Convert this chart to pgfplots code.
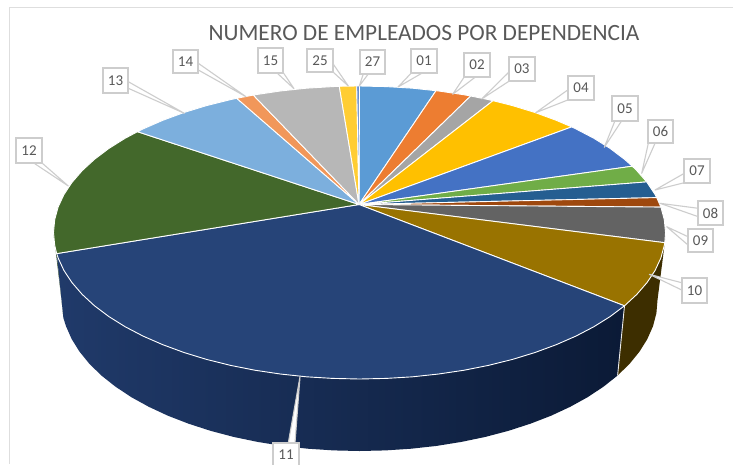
\documentclass[border=0pt]{standalone}
\usepackage{pgfplots}
\pgfplotsset{compat=1.18}
\usepackage{fontspec}
\setmainfont{Carlito}
\definecolor{c01}{HTML}{5B9BD5}\definecolor{c02}{HTML}{ED7D31}\definecolor{c03}{HTML}{A5A5A5}
\definecolor{c04}{HTML}{FFC000}\definecolor{c05}{HTML}{4472C4}\definecolor{c06}{HTML}{70AD47}
\definecolor{c07}{HTML}{255E91}\definecolor{c08}{HTML}{9E480E}\definecolor{c09}{HTML}{636363}
\definecolor{c10}{HTML}{997300}\definecolor{c11}{HTML}{264478}\definecolor{c12}{HTML}{43682B}
\definecolor{c13}{HTML}{7CAFDD}\definecolor{c14}{HTML}{F1975A}\definecolor{c15}{HTML}{B7B7B7}
\definecolor{c25}{HTML}{FFCD33}\definecolor{c27}{HTML}{698ED0}
\definecolor{sideL}{HTML}{203A6A}\definecolor{sideM}{HTML}{16284E}\definecolor{sideR}{HTML}{0B1A36}
\definecolor{txt}{HTML}{595959}\definecolor{callout}{HTML}{CDCDCD}\definecolor{frame}{HTML}{DEDEDE}
\pgfplotsset{
  slice/.style={fill=#1,draw=white,line width=0.9pt,no markers,line join=round,forget plot},
  side/.style={draw=none,no markers,forget plot}
}
\newcommand{\leader}[6]{\addplot[fill=white,draw=callout,line width=1.1pt,no markers,line join=round,forget plot] coordinates {(#1,#2)(#3,#4)(#5,#6)} -- cycle;}
\newcommand{\boxlab}[5]{\addplot[fill=white,draw=callout,line width=1.3pt,no markers,forget plot] coordinates {(#1,#2)(#3,#2)(#3,#4)(#1,#4)} -- cycle;
  \node[text=txt,font=\fontsize{15}{16}\selectfont,inner sep=0pt] at (axis cs:{(#1+#3)/2},{(#2+#4)/2}) {#5};}
\begin{document}
\begin{tikzpicture}
\begin{axis}[width=733pt,height=464pt,scale only axis,xmin=0,xmax=733,ymin=0,ymax=464,y dir=reverse,hide axis]
% page background
\addplot[fill=white,draw=none,no markers,forget plot] coordinates {(0,0)(733,0)(733,464)(0,464)} -- cycle;
% frame
\addplot[frame,line width=1pt,no markers,forget plot] coordinates {(733,7.5)(9.5,7.5)(9.5,464)};
% side walls
\addplot[side,fill=black!5!c12!75!black] coordinates {(53.5,232.5)(54.7,245.3)(56.7,253.6)(63.4,318)(61.5,300)} -- cycle;
\addplot[side,left color=sideL,middle color=sideM,right color=sideR] coordinates {
(56.7,253.6)(58.1,257.9)(63.9,270.4)(72.0,282.6)(82.2,294.4)(94.5,305.8)(108.8,316.5)(125.1,326.7)(143.1,336.1)(162.8,344.7)(184.0,352.5)(206.5,359.4)(230.2,365.3)(254.8,370.2)(280.3,374.0)(306.4,376.8)(332.8,378.4)(359.5,379.0)(386.2,378.4)(412.6,376.8)(438.7,374.0)(464.2,370.2)(488.8,365.3)(512.5,359.4)(535.0,352.5)(556.2,344.7)(575.9,336.1)(593.9,326.7)(610.2,316.5)(624.5,305.8)
(617.6,375.5)(603.6,386.6)(587.8,397.1)(570.2,406.8)(551.1,415.7)(530.4,423.7)(508.5,430.8)(485.4,436.9)(461.4,441.9)(436.6,445.9)(411.2,448.7)(385.5,450.4)(359.5,451)(333.5,450.4)(307.8,448.7)(282.4,445.9)(257.6,441.9)(233.6,436.9)(210.5,430.8)(188.6,423.7)(167.9,415.7)(148.8,406.8)(131.2,397.1)(115.4,386.6)(101.4,375.5)(89.4,363.8)(79.5,351.6)(71.7,339.1)(66.0,326.2)(63.4,318)} -- cycle;
\addplot[side,fill=c10!40!black] coordinates {
(664.8,242.7)(664.3,245.3)(660.9,257.9)(655.1,270.4)(647.0,282.6)(636.8,294.4)(624.5,305.8)(617.6,375.5)(629.6,363.8)(639.5,351.6)(647.3,339.1)(653,326.2)(656.4,313.2)(657.5,300)} -- cycle;
\addplot[white!85!gray,line width=0.9pt,no markers,forget plot] coordinates {(624.5,305.8)(617.6,375.5)};
% top slices
\addplot[slice=c01] coordinates {(359,204.5)(359.5,86.0)(386.2,86.6)(412.6,88.2)(436,90.7)} -- cycle;
\addplot[slice=c02] coordinates {(359,204.5)(436,90.7)(438.7,91.0)(464.2,94.8)(470.7,96)} -- cycle;
\addplot[slice=c03] coordinates {(359,204.5)(470.7,96)(488.8,99.7)(493,100.7)} -- cycle;
\addplot[slice=c04] coordinates {(359,204.5)(493,100.7)(512.5,105.6)(535.0,112.5)(556.2,120.3)(571.7,126.9)} -- cycle;
\addplot[slice=c05] coordinates {(359,204.5)(571.7,126.9)(575.9,128.9)(593.9,138.3)(610.2,148.5)(624.5,159.3)(632.3,166.2)} -- cycle;
\addplot[slice=c06] coordinates {(359,204.5)(632.3,166.2)(636.8,170.6)(646.7,181.9)} -- cycle;
\addplot[slice=c07] coordinates {(359,204.5)(646.7,181.9)(655.1,194.6)(656.7,197.6)} -- cycle;
\addplot[slice=c08] coordinates {(359,204.5)(656.7,197.6)(660.9,207.1)} -- cycle;
\addplot[slice=c09] coordinates {(359,204.5)(660.9,207.1)(664.3,219.7)(665.5,232.5)(664.8,242.7)} -- cycle;
\addplot[slice=c10] coordinates {(359,204.5)(664.8,242.7)(664.3,245.3)(660.9,257.9)(655.1,270.4)(647.0,282.6)(636.8,294.4)(624.5,305.8)} -- cycle;
\addplot[slice=c11] coordinates {(359,204.5)(624.5,305.8)(610.2,316.5)(593.9,326.7)(575.9,336.1)(556.2,344.7)(535.0,352.5)(512.5,359.4)(488.8,365.3)(464.2,370.2)(438.7,374.0)(412.6,376.8)(386.2,378.4)(359.5,379.0)(332.8,378.4)(306.4,376.8)(280.3,374.0)(254.8,370.2)(230.2,365.3)(206.5,359.4)(184.0,352.5)(162.8,344.7)(143.1,336.1)(125.1,326.7)(108.8,316.5)(94.5,305.8)(82.2,294.4)(72.0,282.6)(63.9,270.4)(58.1,257.9)(56.7,253.6)} -- cycle;
\addplot[slice=c12] coordinates {(359,204.5)(56.7,253.6)(54.7,245.3)(53.5,232.5)(54.7,219.7)(58.1,207.1)(63.9,194.6)(72.0,182.4)(82.2,170.6)(94.5,159.3)(108.8,148.5)(125.1,138.3)(137.5,131.7)} -- cycle;
\addplot[slice=c13] coordinates {(359,204.5)(137.5,131.7)(143.1,128.9)(162.8,120.3)(184.0,112.5)(206.5,105.6)(230.2,99.7)(236.7,98.3)} -- cycle;
\addplot[slice=c14] coordinates {(359,204.5)(236.7,98.3)(253.3,95.1)} -- cycle;
\addplot[slice=c15] coordinates {(359,204.5)(253.3,95.1)(254.8,94.8)(280.3,91.0)(306.4,88.2)(332.8,86.6)(339.3,86.3)} -- cycle;
\addplot[slice=c25] coordinates {(359,204.5)(339.3,86.3)(356.7,86)} -- cycle;
\addplot[slice=c27] coordinates {(359,204.5)(356.7,86)(359.5,86.0)} -- cycle;
% callouts
\leader{398}{87}{411}{73.3}{421.7}{73.3}
\leader{452.7}{94.3}{464}{77.3}{475}{77.3}
\leader{481.7}{99}{509.3}{71.7}{509.3}{81}
\leader{535.7}{112.7}{567.7}{90}{567.7}{100}
\leader{604.3}{147.3}{615}{120.7}{621.7}{120.7}
\leader{641.7}{173.3}{648.3}{143.3}{655}{143.3}
\leader{655}{190}{684.3}{173.3}{684.3}{182.7}
\leader{660}{203.3}{698.3}{208.3}{698.3}{216.7}
\leader{666.7}{226.7}{688}{236.7}{688}{245}
\leader{649.3}{274.3}{681.7}{282.7}{681.7}{290}
\leader{300}{376.7}{288.3}{443}{295}{443}
\leader{68.3}{186}{33.3}{162.7}{41.7}{162.7}
\leader{184.3}{113.3}{128.3}{81.7}{128.3}{88.3}
\leader{246}{96.7}{198.3}{63.3}{198.3}{70}
\leader{294}{88.7}{276.7}{72.7}{283.3}{72.7}
\leader{348.3}{86}{332.7}{63.3}{332.7}{71.7}
\leader{359.3}{86}{363.3}{74}{368.3}{74}
\boxlab{411}{49}{437}{73}{01}
\boxlab{464}{53}{490}{77}{02}
\boxlab{509}{57}{535}{81}{03}
\boxlab{568}{76}{594}{100}{04}
\boxlab{612}{96}{638}{121}{05}
\boxlab{648}{120}{673}{143}{06}
\boxlab{684}{159}{710}{183}{07}
\boxlab{698}{201}{723}{225}{08}
\boxlab{688}{229}{713}{252}{09}
\boxlab{682}{278}{707}{303}{10}
\addplot[fill=white,draw=callout,line width=1.3pt,no markers,forget plot] coordinates {(273,443)(299,443)(299,468)(273,468)} -- cycle;
\node[text=txt,font=\fontsize{15}{16}\selectfont,inner sep=0pt] at (axis cs:286,455) {11};
\boxlab{16}{138}{42}{163}{12}
\boxlab{103}{68}{128}{93}{13}
\boxlab{173}{50}{198}{73}{14}
\boxlab{258}{48}{283}{73}{15}
\boxlab{307}{49}{333}{72}{25}
\boxlab{360}{50}{385}{74}{27}
\node[text=txt,font=\fontsize{23.3}{25}\selectfont,inner sep=0pt] at (axis cs:424,33.5) {NUMERO DE EMPLEADOS POR DEPENDENCIA};
\end{axis}
\end{tikzpicture}
\end{document}
